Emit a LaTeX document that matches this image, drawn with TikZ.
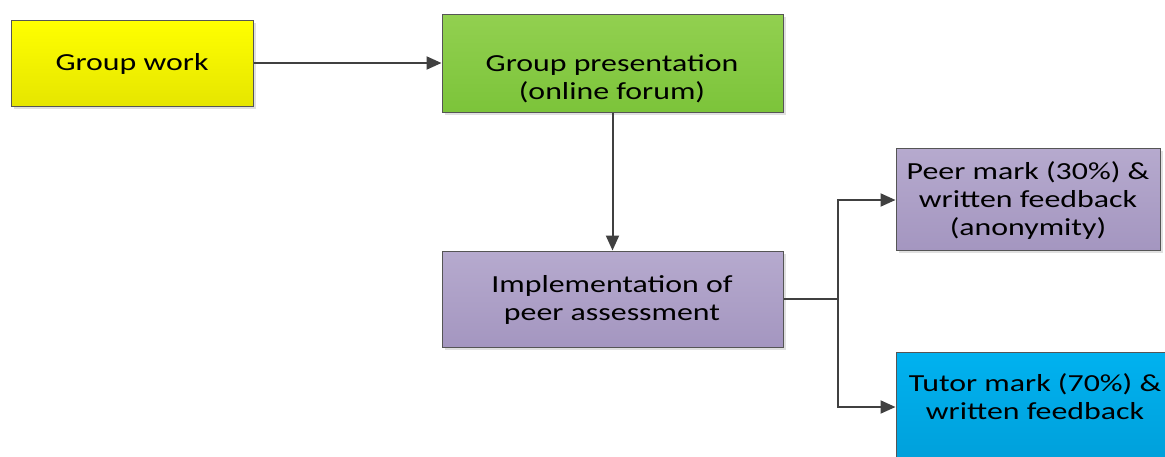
\documentclass[tikz,border=0pt]{standalone}
\usepackage{fontspec}
\setmainfont[FakeStretch=1.3]{Carlito}
\usetikzlibrary{arrows.meta,shadows}
\definecolor{edge}{HTML}{555555}
\definecolor{wire}{HTML}{404040}
\tikzset{
  flowbox/.style={draw=edge, line width=1pt, rectangle, inner sep=0pt,
    drop shadow={shadow xshift=3pt, shadow yshift=-3pt, fill=black!12, opacity=1}},
  caption/.style={align=center, inner sep=0pt, text=black,
    font=\fontsize{24.5}{28}\selectfont},
  yellowbox/.style={flowbox, top color=yellow, bottom color=yellow!90!black},
  greenbox/.style={flowbox, top color={rgb,255:red,146;green,208;blue,80}, bottom color={rgb,255:red,124;green,196;blue,58}},
  purplebox/.style={flowbox, top color={rgb,255:red,182;green,170;blue,206}, bottom color={rgb,255:red,164;green,150;blue,192}},
  bluebox/.style={flowbox, top color={rgb,255:red,0;green,178;blue,240}, bottom color={rgb,255:red,0;green,158;blue,216}},
  flow/.style={draw=wire, line width=2pt, -{Triangle[length=15pt,width=13pt]}},
  link/.style={draw=wire, line width=2pt}
}
\begin{document}
\begin{tikzpicture}[x=1pt,y=-1pt]
  \clip (0,0) rectangle (1165,456);
  \fill[white] (0,0) rectangle (1165,456);

  % boxes
  \node[yellowbox, minimum width=242pt, minimum height=86pt] (gw) at (132,63) {};
  \node[greenbox, minimum width=341pt, minimum height=98pt] (gp) at (612.5,63) {};
  \node[purplebox, minimum width=341pt, minimum height=96pt] (imp) at (612.5,299) {};
  \node[purplebox, minimum width=264pt, minimum height=102pt] (peer) at (1028,199) {};
  \node[bluebox, minimum width=278pt, minimum height=120pt] (tutor) at (1035,412) {};

  % captions
  \node[caption] (gwtext) at (132,64) {Group work};
  \node[caption] (gptext) at (612,79) {Group presentation\\(online forum)};
  \node[caption] (imptext) at (612,300) {Implementation of\\peer assessment};
  \node[caption] (peertext) at (1028,201) {Peer mark (30\%) \&\\written feedback\\(anonymity)};
  \node[caption] (tutortext) at (1035,397) {Tutor mark (70\%) \&\\written feedback};

  % connectors
  \coordinate (split) at (838,299);
  \coordinate (peerin) at (838,200);
  \coordinate (tutorin) at (838,407);

  \draw[flow] (gw.east) -- (gw.east -| gp.west);
  \draw[flow] (gp.south) -- (imp.north);
  \draw[link] (imp.east) -- (split);
  \draw[flow] (split) -- (peerin) -- (peerin -| peer.west);
  \draw[flow] (split) -- (tutorin) -- (tutorin -| tutor.west);
\end{tikzpicture}
\end{document}
